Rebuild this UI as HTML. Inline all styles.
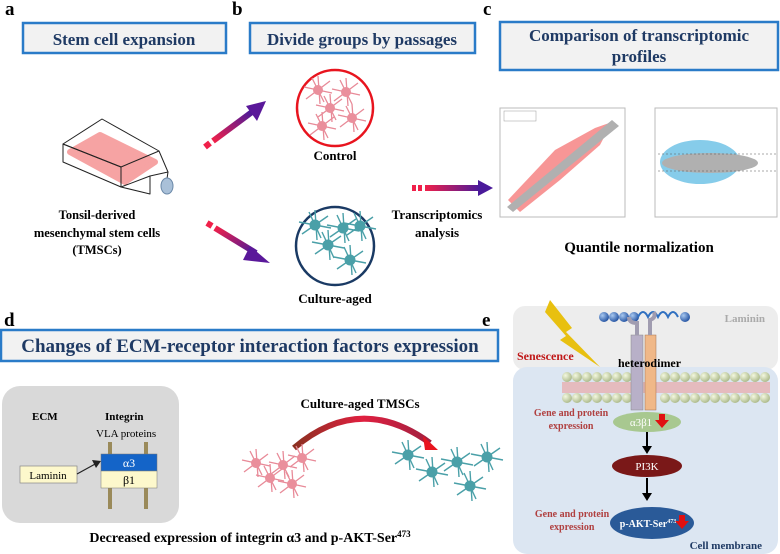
<!DOCTYPE html>
<html><head><meta charset="utf-8"><style>
html,body{margin:0;padding:0;background:#fff;}
svg{display:block;font-family:"Liberation Serif",serif;}
.b{font-weight:bold;}
</style></head><body>
<svg width="780" height="554" viewBox="0 0 780 554" xmlns="http://www.w3.org/2000/svg">
<defs>
<linearGradient id="ga" x1="0" y1="0" x2="1" y2="0"><stop offset="0" stop-color="#f0204a"/><stop offset="1" stop-color="#4a1a9a"/></linearGradient>
<linearGradient id="gu" x1="0" y1="1" x2="1" y2="0"><stop offset="0" stop-color="#f0204a"/><stop offset="1" stop-color="#4a1a9a"/></linearGradient>
<linearGradient id="gd" x1="0" y1="0" x2="1" y2="1"><stop offset="0" stop-color="#f0204a"/><stop offset="1" stop-color="#4a1a9a"/></linearGradient>
<linearGradient id="gr" x1="0" y1="0" x2="1" y2="0"><stop offset="0" stop-color="#8a3020"/><stop offset="0.5" stop-color="#e02040"/><stop offset="1" stop-color="#a02040"/></linearGradient>
<radialGradient id="ball" cx="0.35" cy="0.35" r="0.7"><stop offset="0" stop-color="#f4f8e0"/><stop offset="1" stop-color="#aab888"/></radialGradient>
<radialGradient id="bb" cx="0.35" cy="0.35" r="0.7"><stop offset="0" stop-color="#a8c8f0"/><stop offset="1" stop-color="#2050a0"/></radialGradient>
<g id="pc"><path d="M-14,-3 L14,3 M-6,-12 L6,12 M-12,9 L12,-9 M0,-14 L2,14" stroke="#e88a98" stroke-width="1.3"/><circle r="5" fill="#ea8f9c"/></g>
<g id="tc"><path d="M-16,-3 L16,3 M-6,-13 L6,13 M-13,9 L13,-9 M0,-15 L2,15" stroke="#4aa0a8" stroke-width="1.4"/><circle r="5.5" fill="#4aa0a8"/></g>
</defs>
<g class="b" font-size="19" fill="#000">
<text x="5" y="15">a</text><text x="232" y="15">b</text><text x="483" y="15">c</text>
<text x="4" y="326">d</text><text x="482" y="326">e</text></g>
<g fill="#f2f2f2" stroke="#2a7bc8" stroke-width="2.5">
<rect x="23" y="23" width="203" height="30"/><rect x="250" y="23" width="225" height="30"/>
<rect x="500" y="22" width="278" height="48"/><rect x="1" y="330" width="497" height="31"/></g>
<g class="b" fill="#1f3a64" font-size="17" text-anchor="middle">
<text x="124" y="45">Stem cell expansion</text>
<text x="362" y="45">Divide groups by passages</text>
<text x="639" y="41">Comparison of transcriptomic</text>
<text x="639" y="62">profiles</text>
<text x="250" y="352" font-size="19">Changes of ECM-receptor interaction factors expression</text></g>
<!-- flask -->
<polygon points="70,152 100,135 155,162 125,182" fill="#f6a3a3" stroke="#f6a3a3" stroke-width="6" stroke-linejoin="round"/>
<g stroke="#222" stroke-width="1" fill="none" stroke-linejoin="round">
<polygon points="63,144 102,119 159,151 121,167"/>
<polygon points="63,144 121,167 121,187 63,162"/>
<polyline points="159,151 168,172 150,176 150,194 121,187"/>
<polyline points="121,187 150,176"/>
<line x1="168" y1="172" x2="165" y2="192"/>
</g>
<ellipse cx="167" cy="186" rx="6" ry="8" fill="#a9c0d8" stroke="#6a88a8"/>
<g class="b" font-size="12.5" text-anchor="middle"><text x="97" y="219">Tonsil-derived</text><text x="97" y="237">mesenchymal stem cells</text><text x="97" y="254">(TMSCs)</text></g>
<g stroke-width="6">
<line x1="205" y1="147" x2="210" y2="143" stroke="#f0204a"/>
<line x1="213" y1="141" x2="252" y2="112" stroke="url(#gu)"/>
<line x1="207" y1="223" x2="212" y2="226" stroke="#f0204a"/>
<line x1="215" y1="228" x2="256" y2="253" stroke="url(#gd)"/></g>
<polygon points="266,101 246,106 257,121" fill="#5a189a"/>
<polygon points="270,263 250,246 243,260" fill="#5a189a"/>
<circle cx="335" cy="108" r="38" fill="#fff" stroke="#e8141e" stroke-width="2.5"/>
<circle cx="335" cy="246" r="39" fill="#fff" stroke="#1a3a64" stroke-width="2.5"/>
<use href="#pc" x="318" y="90"/><use href="#pc" x="346" y="92"/><use href="#pc" x="330" y="108"/><use href="#pc" x="352" y="118"/><use href="#pc" x="322" y="126"/>
<use href="#tc" x="315" y="225"/><use href="#tc" x="343" y="228"/><use href="#tc" x="328" y="245"/><use href="#tc" x="350" y="260"/><use href="#tc" x="360" y="226"/>
<g class="b" font-size="13" text-anchor="middle"><text x="335" y="160">Control</text><text x="335" y="303">Culture-aged</text>
<text x="437" y="219">Transcriptomics</text><text x="437" y="237">analysis</text></g>
<rect x="412" y="185" width="4" height="6" fill="#f0204a"/><rect x="418" y="185" width="4" height="6" fill="#f0204a"/>
<rect x="425" y="185" width="55" height="6" fill="url(#ga)"/>
<polygon points="478,180 493,188 478,196" fill="#4a1a9a"/>
<!-- scatter 1 -->
<rect x="500" y="108" width="125" height="109" fill="#fff" stroke="#bbb"/>
<polygon points="508,200 555,150 595,128 612,122 600,145 560,180 520,212" fill="#f04040" opacity="0.55"/>
<polygon points="507,207 612,120 619,126 513,212" fill="#b0b0b0"/>
<rect x="504" y="111" width="32" height="10" fill="#fff" stroke="#999" stroke-width="0.5"/>
<!-- scatter 2 -->
<rect x="655" y="108" width="122" height="109" fill="#fff" stroke="#bbb"/>
<ellipse cx="700" cy="162" rx="40" ry="22" fill="#86ccea"/>
<ellipse cx="710" cy="163" rx="48" ry="10" fill="#b0b0b0"/>
<line x1="658" y1="154" x2="777" y2="154" stroke="#555" stroke-dasharray="2,2" stroke-width="0.6"/>
<line x1="658" y1="171" x2="777" y2="171" stroke="#555" stroke-dasharray="2,2" stroke-width="0.6"/>
<text x="639" y="252" class="b" font-size="15" text-anchor="middle">Quantile normalization</text>
<!-- d gray box -->
<rect x="2" y="386" width="177" height="137" rx="18" fill="#d9d9d9"/>
<g font-size="11"><text x="32" y="420" class="b">ECM</text><text x="105" y="420" class="b">Integrin</text><text x="96" y="437">VLA proteins</text></g>
<rect x="108" y="442" width="4" height="67" fill="#9a8a5a"/><rect x="144" y="442" width="4" height="67" fill="#9a8a5a"/>
<rect x="101" y="454" width="56" height="17" fill="#1464c8" stroke="#777" stroke-width="0.5"/>
<rect x="101" y="471" width="56" height="17" fill="#fdf8cc" stroke="#777" stroke-width="0.5"/>
<text x="129" y="467" font-size="12" fill="#fff" text-anchor="middle">α3</text>
<text x="129" y="484" font-size="12" text-anchor="middle">β1</text>
<rect x="20" y="466" width="57" height="17" fill="#fdf8cc" stroke="#888" stroke-width="0.7"/>
<text x="48" y="479" font-size="11" text-anchor="middle">Laminin</text>
<line x1="77" y1="474" x2="97" y2="463" stroke="#222" stroke-width="1.2"/>
<polygon points="101,461 92,460 96,468" fill="#222"/>
<text x="360" y="408" class="b" font-size="13" text-anchor="middle">Culture-aged TMSCs</text>
<path d="M294,448 Q360,392 430,443" fill="none" stroke="url(#gr)" stroke-width="6"/>
<polygon points="423,436 438,450 425,450" fill="#e8141e"/>
<use href="#pc" x="256" y="463"/><use href="#pc" x="283" y="465"/><use href="#pc" x="302" y="458"/><use href="#pc" x="270" y="478"/><use href="#pc" x="292" y="484"/>
<use href="#tc" x="408" y="455"/><use href="#tc" x="432" y="472"/><use href="#tc" x="457" y="462"/><use href="#tc" x="487" y="457"/><use href="#tc" x="470" y="486"/>
<text x="250" y="542" class="b" font-size="14" text-anchor="middle">Decreased expression of integrin α3 and p-AKT-Ser<tspan font-size="9" dy="-5">473</tspan></text>
<!-- panel e -->
<rect x="513" y="306" width="265" height="64" rx="12" fill="#ededed"/>
<rect x="513" y="367" width="265" height="187" rx="14" fill="#dce6f2"/>
<text x="765" y="322" class="b" font-size="11" fill="#aaa" text-anchor="end">Laminin</text>
<polygon points="550,300 572,328 566,332 600,367 560,340 566,336 545,312" fill="#e8c010"/>
<text x="517" y="360" class="b" font-size="12" fill="#c01818">Senescence</text>
<g fill="url(#bb)"><circle cx="604" cy="317" r="5"/><circle cx="614" cy="317" r="5"/><circle cx="624" cy="317" r="5"/><circle cx="634" cy="317" r="5"/><circle cx="685" cy="317" r="5"/></g>
<path d="M638,317 q5,-10 10,0 q5,-10 10,0 q5,-10 10,0 q5,-10 10,0" fill="none" stroke="#3070c0" stroke-width="2"/>
<g fill="url(#ball)">
<circle cx="567" cy="377" r="5"/><circle cx="577" cy="377" r="5"/><circle cx="587" cy="377" r="5"/><circle cx="597" cy="377" r="5"/><circle cx="607" cy="377" r="5"/><circle cx="617" cy="377" r="5"/><circle cx="627" cy="377" r="5"/><circle cx="665" cy="377" r="5"/><circle cx="675" cy="377" r="5"/><circle cx="685" cy="377" r="5"/><circle cx="695" cy="377" r="5"/><circle cx="705" cy="377" r="5"/><circle cx="715" cy="377" r="5"/><circle cx="725" cy="377" r="5"/><circle cx="735" cy="377" r="5"/><circle cx="745" cy="377" r="5"/><circle cx="755" cy="377" r="5"/><circle cx="765" cy="377" r="5"/>
<circle cx="567" cy="398" r="5"/><circle cx="577" cy="398" r="5"/><circle cx="587" cy="398" r="5"/><circle cx="597" cy="398" r="5"/><circle cx="607" cy="398" r="5"/><circle cx="617" cy="398" r="5"/><circle cx="627" cy="398" r="5"/><circle cx="665" cy="398" r="5"/><circle cx="675" cy="398" r="5"/><circle cx="685" cy="398" r="5"/><circle cx="695" cy="398" r="5"/><circle cx="705" cy="398" r="5"/><circle cx="715" cy="398" r="5"/><circle cx="725" cy="398" r="5"/><circle cx="735" cy="398" r="5"/><circle cx="745" cy="398" r="5"/><circle cx="755" cy="398" r="5"/><circle cx="765" cy="398" r="5"/></g>
<rect x="562" y="382" width="208" height="11" fill="#e8a8a8" opacity="0.7"/>
<rect x="631" y="335" width="12" height="75" fill="#b8b0c8" stroke="#888" stroke-width="0.5"/>
<rect x="645" y="335" width="11" height="75" fill="#f0b888" stroke="#a07050" stroke-width="0.5"/>
<path d="M637,335 v-12 q-8,0 -8,-6 M650,335 v-15 q6,-2 4,-8" fill="none" stroke="#a09cb0" stroke-width="4"/>
<text x="618" y="367" class="b" font-size="12">heterodimer</text>
<ellipse cx="647" cy="422" rx="34" ry="10" fill="#a8c890"/>
<text x="641" y="426" font-size="11" fill="#fff" text-anchor="middle">α3β1</text>
<polygon points="659,414 665,414 665,420 669,420 662,428 655,420 659,420" fill="#e01010"/>
<line x1="647" y1="432" x2="647" y2="448" stroke="#000" stroke-width="2"/><polygon points="642,446 652,446 647,454" fill="#000"/>
<ellipse cx="647" cy="466" rx="35" ry="11" fill="#7a1818"/>
<text x="647" y="470" font-size="11" fill="#fff" text-anchor="middle">PI3K</text>
<line x1="647" y1="478" x2="647" y2="495" stroke="#000" stroke-width="2"/><polygon points="642,493 652,493 647,501" fill="#000"/>
<ellipse cx="652" cy="523" rx="42" ry="16" fill="#2a5a98"/>
<text x="648" y="527" class="b" font-size="10" fill="#fff" text-anchor="middle">p-AKT-Ser<tspan font-size="6" dy="-4">473</tspan></text>
<polygon points="679,515 685,515 685,521 689,521 682,529 675,521 679,521" fill="#e01010"/>
<g class="b" font-size="10" fill="#b04040" text-anchor="middle"><text x="571" y="416">Gene and protein</text><text x="571" y="429">expression</text><text x="572" y="517">Gene and protein</text><text x="572" y="530">expression</text></g>
<text x="762" y="549" class="b" font-size="11" fill="#1f3a64" text-anchor="end">Cell membrane</text>
</svg>
</body></html>
